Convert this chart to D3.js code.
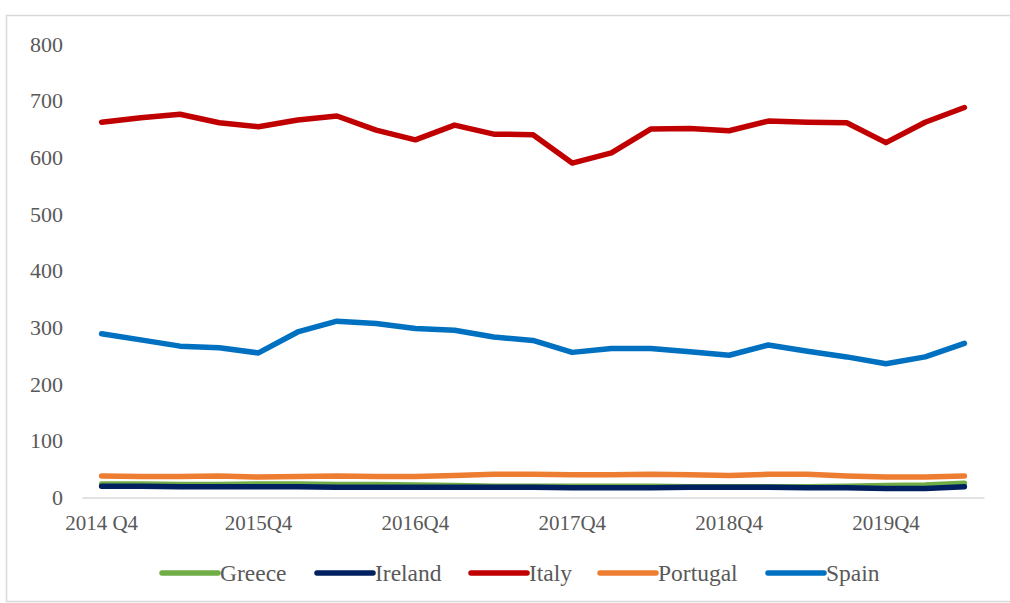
<!DOCTYPE html>
<html>
<head>
<meta charset="utf-8">
<script src="https://cdn.jsdelivr.net/npm/d3@7"></script>
<style>
  html, body { margin: 0; padding: 0; background: #fff; }
  svg { display: block; }
  text { font-family: "Liberation Serif", "Times New Roman", serif; fill: #595959; }
</style>
</head>
<body>
<svg id="chart" width="1010" height="603"></svg>
<script>
// Quarterly categories
const quarters = [
  "2014 Q4", "2015Q1", "2015Q2", "2015Q3", "2015Q4",
  "2016Q1", "2016Q2", "2016Q3", "2016Q4",
  "2017Q1", "2017Q2", "2017Q3", "2017Q4",
  "2018Q1", "2018Q2", "2018Q3", "2018Q4",
  "2019Q1", "2019Q2", "2019Q3", "2019Q4",
  "2020Q1", "2020Q2"
];
const labelledQuarters = ["2014 Q4", "2015Q4", "2016Q4", "2017Q4", "2018Q4", "2019Q4"];
const yTicks = [0, 100, 200, 300, 400, 500, 600, 700, 800];

const countries = ["Greece", "Ireland", "Italy", "Portugal", "Spain"];
const colors = ["#70AD47", "#002060", "#C00000", "#ED7D31", "#0070C0"];

const greece   = [24, 24, 23, 23, 24, 24, 23, 23, 22, 21, 20, 20, 20, 20, 20, 19, 19, 19, 19, 20, 21, 22, 25];
const ireland  = [20, 20, 19, 19, 19, 19, 18, 18, 18, 18, 18, 18, 17, 17, 17, 18, 18, 18, 17, 17, 16, 16, 19];
const italy    = [662, 670, 676, 661, 654, 666, 673, 648, 631, 657, 641, 640, 590, 608, 650, 651, 647, 664, 662, 661, 626, 662, 688];
const portugal = [38, 37, 37, 38, 36, 37, 38, 37, 37, 39, 41, 41, 40, 40, 41, 40, 39, 41, 41, 38, 36, 36, 38];
const spain    = [289, 278, 267, 264, 255, 292, 311, 307, 298, 295, 283, 277, 256, 263, 263, 257, 251, 269, 258, 248, 236, 248, 272];

const seriesValues = [greece, ireland, italy, portugal, spain];

const svg = d3.select("#chart");
const serif = "'Liberation Serif', 'Times New Roman', serif";

// outer chart frame
svg.append("rect")
  .attr("x", 6.5).attr("y", 15.5)
  .attr("width", 1010).attr("height", 586)
  .attr("fill", "none")
  .attr("stroke", "#d9d9d9")
  .attr("stroke-width", 1.5);

const plot = { left: 82, right: 984, top: 44, bottom: 497.5 };

const x = d3.scaleBand()
  .domain(quarters)
  .range([plot.left, plot.right]);

const y = d3.scaleLinear()
  .domain([0, 800])
  .range([plot.bottom, plot.top]);

// y axis: labels only
const yAxis = d3.axisLeft(y).tickValues(yTicks).tickSize(0).tickPadding(19);
const gy = svg.append("g")
  .attr("transform", `translate(${plot.left},0)`)
  .call(yAxis);
gy.attr("font-family", null);
gy.select(".domain").remove();
gy.selectAll("text")
  .attr("font-size", 22)
  .style("font-family", serif)
  .attr("fill", "#595959");

// x axis: baseline with labels every fourth quarter
const xAxis = d3.axisBottom(x).tickValues(labelledQuarters).tickSize(0).tickPadding(18);
const gx = svg.append("g")
  .attr("transform", `translate(0,${plot.bottom})`)
  .call(xAxis);
gx.attr("font-family", null);
gx.select(".domain")
  .attr("stroke", "#d9d9d9")
  .attr("stroke-width", 1.5);
gx.selectAll("text")
  .attr("font-size", 21)
  .style("font-family", serif)
  .attr("fill", "#595959");

// series lines
const line = d3.line()
  .x((d, i) => x(quarters[i]) + x.bandwidth() / 2)
  .y(d => y(d));

countries.forEach((c, k) => {
  svg.append("path")
    .datum(seriesValues[k])
    .attr("d", line)
    .attr("fill", "none")
    .attr("stroke", colors[k])
    .attr("stroke-width", 5.5)
    .attr("stroke-linejoin", "round")
    .attr("stroke-linecap", "round");
});

// legend
const legendX = [162, 317, 471, 600, 768];
const legend = svg.append("g").attr("transform", "translate(0,573)");
countries.forEach((c, k) => {
  const g = legend.append("g").attr("transform", `translate(${legendX[k]},0)`);
  g.append("line")
    .attr("x1", 0).attr("x2", 56)
    .attr("y1", 0).attr("y2", 0)
    .attr("stroke", colors[k])
    .attr("stroke-width", 5.5)
    .attr("stroke-linecap", "round");
  g.append("text")
    .attr("x", 58).attr("y", 0)
    .attr("dy", "0.35em")
    .attr("font-size", 23.5)
    .style("font-family", serif)
    .text(c);
});
</script>
</body>
</html>
